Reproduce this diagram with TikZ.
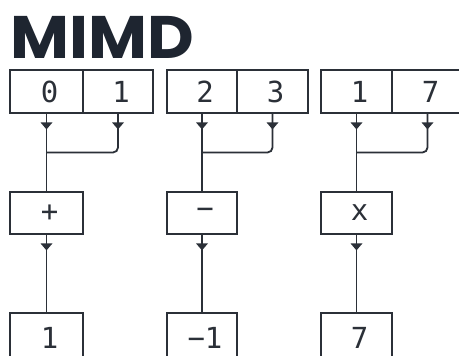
\documentclass[tikz,border=0pt]{standalone}
\usepackage{fontspec}
\newfontfamily\titlefont{Poppins}
\newfontfamily\monofont{DejaVu Sans Mono}
\definecolor{ink}{HTML}{2B3038}
\definecolor{titleink}{HTML}{1E2530}
\tikzset{
  cellbox/.style={draw=ink, line width=1.8pt, minimum height=43pt, inner sep=0pt, text=ink,
    font=\monofont\fontsize{29}{29}\selectfont},
  wire/.style={draw=ink, line width=1.8pt},
  headfill/.style={fill=ink},
}
\newcommand{\cv}[1]{\hspace*{6pt}#1}
\begin{document}
\begin{tikzpicture}[x=1pt,y=-1pt]
\clip (0,0) rectangle (459,356);
\fill[white] (0,0) rectangle (459,356);
\node[anchor=base west, inner sep=0pt, text=titleink, font=\titlefont\bfseries\fontsize{60}{60}\selectfont] (title) at (10,58) {\scalebox{1.07}[1]{MIMD}};
% top cells
\node[cellbox, minimum width=73pt] (a0) at (46.5,91.5) {\cv{0}};
\node[cellbox, minimum width=70pt] (a1) at (118,91.5) {\cv{1}};
\node[cellbox, minimum width=70pt] (b0) at (202,91.5) {\cv{2}};
\node[cellbox, minimum width=71pt] (b1) at (272.5,91.5) {\cv{3}};
\node[cellbox, minimum width=71pt] (c0) at (356.5,91.5) {\cv{1}};
\node[cellbox, minimum width=71pt] (c1) at (427.5,91.5) {\cv{7}};
% operators
\node[cellbox, minimum width=73pt, minimum height=42pt] (opa) at (46.5,213) {\cv{+}};
\node[cellbox, minimum width=70pt, minimum height=42pt] (opb) at (202,213) {\cv{−}};
\node[cellbox, minimum width=71pt, minimum height=42pt] (opc) at (356.5,213) {\cv{x}};
% results
\node[cellbox, minimum width=73pt, minimum height=50pt, anchor=north] (ra) at (46.5,312) {\cv{1}};
\node[cellbox, minimum width=70pt, minimum height=50pt, anchor=north] (rb) at (202,312) {\cv{−1}};
\node[cellbox, minimum width=71pt, minimum height=50pt, anchor=north] (rc) at (356.5,312) {\cv{7}};
% joins
\coordinate (ja) at (46.5,152.5);
\coordinate (jb) at (202,152.5);
\coordinate (jc) at (356.5,152.5);
% connectors
\draw[wire] (a0.south) -- (opa.north);
\draw[wire, rounded corners=5pt] (a1.south) |- (ja);
\draw[wire] (b0.south) -- (opb.north);
\draw[wire, rounded corners=5pt] (b1.south) |- (jb);
\draw[wire] (c0.south) -- (opc.north);
\draw[wire, rounded corners=5pt] (c1.south) |- (jc);
\draw[wire] (opa.south) -- (ra.north);
\draw[wire] (opb.south) -- (rb.north);
\draw[wire] (opc.south) -- (rc.north);
% arrowheads
\foreach \n in {a0,a1,b0,b1,c0,c1,opa,opb,opc}{
  \fill[headfill] (\n.south) ++(-6,8.5) -- ++(12,0) -- ++(-6,7) -- cycle;
}
\end{tikzpicture}
\end{document}
